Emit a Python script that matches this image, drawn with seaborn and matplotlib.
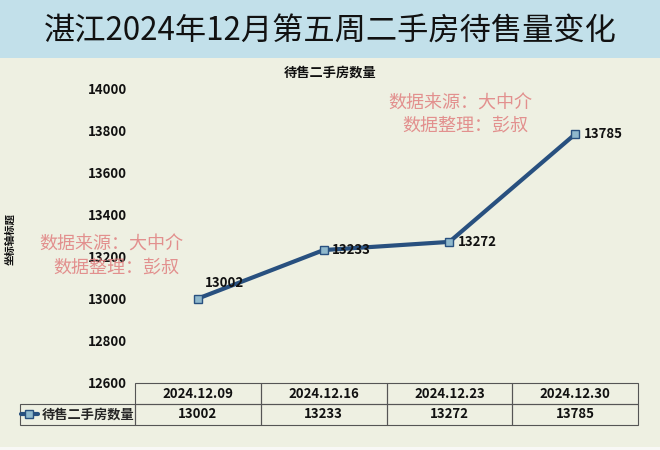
import matplotlib
matplotlib.use("Agg")
import matplotlib.pyplot as plt
from matplotlib.patches import Rectangle
import seaborn as sns
import pandas as pd

# data
dates = ["2024.12.09", "2024.12.16", "2024.12.23", "2024.12.30"]
listings = [13002, 13233, 13272, 13785]
y_ticks = [12600, 12800, 13000, 13200, 13400, 13600, 13800, 14000]
series_name = "待售二手房数量"

BG = "#eef0e2"
BAND = "#c2e0ea"
LINE = "#28507f"
MARK = "#8fb8cc"
WM = "#e07f7f"

sns.set_theme(style="white")
plt.rcParams["font.family"] = ["Noto Sans CJK SC", "DejaVu Sans"]

fig = plt.figure(figsize=(6.6, 4.5), dpi=100, facecolor=BG)
W, H = 660, 450

# title band and bottom strip
fig.add_artist(Rectangle((0, 1 - 58 / H), 1, 58 / H, transform=fig.transFigure,
                         facecolor=BAND, edgecolor="none", zorder=0))
fig.add_artist(Rectangle((0, 0), 1, 3 / H, transform=fig.transFigure,
                         facecolor="#f8f8f6", edgecolor="none", zorder=0))
fig.text(0.5, 1 - 31 / H, "湛江2024年12月第五周二手房待售量变化", ha="center", va="center",
         fontsize=22.5, color="#111111")
fig.text(0.5, 1 - 73 / H, series_name, ha="center", va="center", fontsize=9.5,
         fontweight="bold", color="#111111")

left, right, top, bottom = 135, 638, 89, 383
ax = fig.add_axes([left / W, 1 - bottom / H, (right - left) / W, (bottom - top) / H])
ax.set_facecolor(BG)

df = pd.DataFrame({"date": dates, "value": listings})
sns.lineplot(data=df, x="date", y="value", ax=ax, color=LINE, linewidth=3,
             marker="s", markersize=6, markerfacecolor=MARK, markeredgecolor=LINE,
             markeredgewidth=1.0, sort=False)

ax.set_xlim(-0.5, len(dates) - 0.5)
ax.set_ylim(y_ticks[0], y_ticks[-1])
ax.set_yticks(y_ticks)
ax.set_yticklabels([str(t) for t in y_ticks], fontsize=9.5, fontweight="bold", color="#111111")
ax.set_xticks([])
ax.set_xlabel("")
ax.tick_params(axis="y", length=0, pad=6)
for s in ax.spines.values():
    s.set_visible(False)
ax.set_ylabel("坐标轴标题", fontsize=7.5, fontweight="bold", color="#111111")
ax.yaxis.set_label_coords(-0.238, 0.49)

# data labels
offsets = [(5, 11), (6, 0), (6, 0), (6, 0)]
for i, (v, off) in enumerate(zip(listings, offsets)):
    ax.annotate(str(v), (i, v), xytext=off, textcoords="offset points",
                ha="left", va="center", fontsize=9.5, fontweight="bold", color="#111111")

# data table under the plot
ax_w = right - left
x0 = (20 - left) / ax_w
tbl_h = (425 - bottom) / (bottom - top)
cell_text = [[""] + dates, [""] + [str(v) for v in listings]]
lab_w = (left - 20) / (638 - 20)
col_w = [lab_w] + [(1 - lab_w) / len(dates)] * len(dates)
tbl = ax.table(cellText=cell_text, colWidths=col_w, cellLoc="center",
               bbox=[x0, -tbl_h, 1 - x0, tbl_h])
tbl.auto_set_font_size(False)
for (r, c), cell in tbl.get_celld().items():
    cell.set_facecolor("none")
    cell.set_edgecolor("#555555")
    cell.set_linewidth(0.8)
    cell.get_text().set_fontsize(9.5)
    cell.get_text().set_fontweight("bold")
    cell.get_text().set_color("#111111")
tbl[0, 0].set_visible(False)

# legend key inside the row-label cell
ax.legend(handles=[ax.lines[0]], labels=[series_name], loc="center left",
          bbox_to_anchor=(x0 - 0.012, -tbl_h * 0.75), frameon=False,
          handlelength=1.3, handletextpad=0.3, borderpad=0,
          prop={"weight": "bold", "size": 9.5})

# watermarks
for cx, cy1, cy2 in [(111, 245, 268), (460, 104, 126)]:
    fig.text(cx / W, 1 - cy1 / H, "数据来源：大中介", ha="center", va="center",
             fontsize=13, color=WM, alpha=0.85)
    fig.text((cx + 5) / W, 1 - cy2 / H, "数据整理：彭叔", ha="center", va="center",
             fontsize=13, color=WM, alpha=0.85)

fig.savefig("out.png", dpi=100, facecolor=BG)
